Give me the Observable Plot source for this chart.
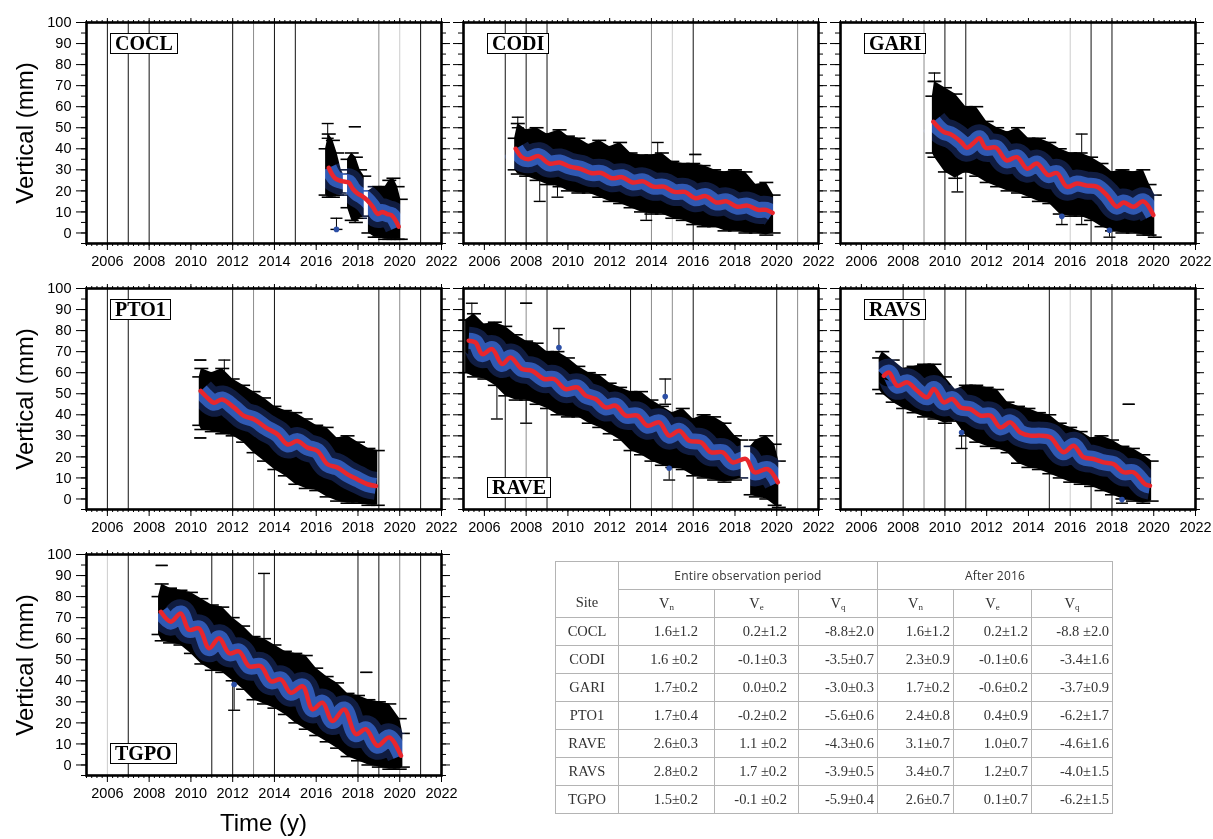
<!DOCTYPE html>
<html><head><meta charset="utf-8">
<script src="https://cdn.jsdelivr.net/npm/d3@7"></script>
<script src="https://cdn.jsdelivr.net/npm/@observablehq/plot@0.6"></script>
<style>
body{margin:0;background:#fff;}
#root{position:relative;width:1213px;height:839px;overflow:hidden;font-family:"Liberation Sans",Arial,sans-serif;background:#fff;}
.panel{position:absolute;}
.sitebox{position:absolute;box-sizing:border-box;border:1.6px solid #000;background:#fff;font-family:"Liberation Serif","Times New Roman",serif;font-weight:bold;font-size:20px;line-height:19px;padding:0 4px;color:#000;white-space:nowrap;}
.ylab{position:absolute;width:200px;height:28px;line-height:28px;text-align:center;font-size:24px;transform:rotate(-90deg);color:#000;}
.xlab{position:absolute;width:200px;text-align:center;font-size:24px;color:#000;}
table.rates{position:absolute;left:555px;top:561px;width:557px;border-collapse:collapse;table-layout:fixed;color:#333;}
table.rates td{border:1px solid #b4b4b4;height:27px;padding:0;font-family:"Liberation Serif","Times New Roman",serif;font-size:14.5px;text-align:right;}
table.rates td.sitecell{text-align:center;}
table.rates td.hd{font-family:"Open Sans","Liberation Sans",sans-serif;font-size:12px;text-align:center;letter-spacing:0.2px;}
table.rates td.vh{text-align:center;}
table.rates sub{font-size:9px;vertical-align:-2px;}
</style></head>
<body><div id="root"></div>
<script>
// ---------- axis ticks ----------
const xTickYears = [2006, 2008, 2010, 2012, 2014, 2016, 2018, 2020, 2022];
const yTickValues = [0, 10, 20, 30, 40, 50, 60, 70, 80, 90, 100];
const sites = ["COCL", "CODI", "GARI", "PTO1", "RAVE", "RAVS", "TGPO"];

// ---------- COCL ----------
const coclModel = [[2016.6,31],[2016.75,28],[2016.9,26],[2017.1,25],[2017.3,24.5],[2017.55,24],[2017.75,21],[2017.95,19],[2018.2,17.5],[2018.45,15.5],[2018.7,12.5],[2018.95,9],[2019.15,10],[2019.4,9],[2019.6,8.5],[2019.8,6],[2019.95,3]];
const coclEnvelope = [[2016.45,18,40],[2016.6,17,47],[2016.8,17,44],[2017.0,18,38],[2017.2,18,30],[2017.3,19,28],[2017.4,null,null],[2017.5,12,35],[2017.7,6,38],[2017.9,5,36],[2018.1,7,30],[2018.3,8,27],[2018.4,null,null],[2018.5,0,20],[2018.8,-2,22],[2019.0,-2,22],[2019.3,-3,22],[2019.5,-3,25],[2019.7,-3,26],[2019.9,-3,22],[2020.05,-3,16]];
const coclOutliers = [[2016.97,1.7,1.7,7],[2017.85,null,50.5,50.5],[2016.55,null,45,52]];
const coclEvents = [[2006,1],[2007,1],[2008,1],[2012,1],[2013,2],[2014,1],[2015,1],[2019,2],[2020,3],[2021,1]];

// ---------- CODI ----------
const codiModel = [[2007.5,40],[2007.8,36],[2008.1,35],[2008.6,36.5],[2009.1,33],[2009.6,33.5],[2010.1,31.5],[2010.6,30.5],[2011.1,28.5],[2011.6,28.5],[2012.1,26],[2012.6,26.5],[2013.1,24],[2013.6,24.5],[2014.1,22],[2014.6,22],[2015.1,19.5],[2015.6,19.5],[2016.1,16.5],[2016.6,17.5],[2017.1,14.5],[2017.6,15],[2018.1,12.5],[2018.6,13],[2019.1,11],[2019.5,11],[2019.8,9.5]];
const codiEnvelope = [[2007.45,30,45],[2007.6,28,52],[2008.0,27,49],[2008.5,25,50],[2009.0,23,47],[2009.6,22,49],[2010.0,20,46],[2010.5,19,45],[2011.0,19,42],[2011.5,17,44],[2012.0,15,41],[2012.5,14,43],[2013.0,12,38],[2013.5,10,37],[2014.0,9,37],[2014.5,9,38],[2015.0,7,34],[2015.5,6,33],[2016.0,4,33],[2016.5,3,32],[2017.0,3,30],[2017.5,1,29],[2018.0,1,30],[2018.5,0,29],[2019.0,0,23],[2019.5,-1,24],[2019.85,0,18]];
const codiOutliers = [[2008.65,null,15,30],[2009.5,null,17,30],[2013.75,null,6,18],[2014.3,null,28,43],[2016.1,null,37.3,37.3],[2007.6,null,50,55]];
const codiEvents = [[2007,1],[2008,1],[2009,1],[2014,2],[2015,3],[2016,1],[2021,2]];

// ---------- GARI ----------
const gariModel = [[2009.45,52.8],[2009.7,50],[2009.95,48],[2010.25,47],[2010.5,45.5],[2010.8,43],[2011.05,40.5],[2011.4,43],[2011.65,45],[2011.95,40.5],[2012.45,40.5],[2012.95,34.5],[2013.45,36],[2013.95,30.5],[2014.4,33],[2014.95,27.5],[2015.36,28.5],[2015.84,22],[2016.32,23.5],[2016.8,22.5],[2017.27,22],[2017.75,18],[2018.23,12.5],[2018.55,14.5],[2019.03,12.5],[2019.5,15],[2019.98,8.5]];
const gariEnvelope = [[2009.4,38,65],[2009.5,36,72],[2010.0,29,69],[2010.5,26,66],[2011.0,29,60],[2011.5,27,60],[2012.0,24,53],[2012.5,22,50],[2013.0,20,48],[2013.5,19,50],[2014.0,17,45],[2014.5,15,45],[2015.0,14,43],[2015.5,9,40],[2016.0,8,38],[2016.5,8,38],[2017.0,6,36],[2017.5,3,33],[2018.0,1,29],[2018.5,0,30],[2019.0,0,29],[2019.5,-1,30],[2019.8,-1,23],[2020.05,-2,18]];
const gariOutliers = [[2015.6,7.9,4,12],[2017.88,1.3,-2,5],[2010.6,null,19.5,35],[2016.55,null,4,47],[2009.5,null,72,76]];
const gariEvents = [[2009,2],[2010,1],[2011,1],[2016,3],[2017,1],[2018,1]];

// ---------- PTO1 ----------
const pto1Model = [[2010.47,51.3],[2010.8,48],[2011.1,45.7],[2011.5,47.3],[2012.07,43.4],[2012.55,39.4],[2013.03,37.8],[2013.59,33.9],[2014.15,30.7],[2014.63,25.9],[2015.1,27.5],[2015.58,24.4],[2016.06,22.8],[2016.54,16.5],[2017.02,14.9],[2017.5,11.7],[2017.98,9.3],[2018.46,7],[2018.86,6.2]];
const pto1Envelope = [[2010.4,35,58],[2010.5,33,62],[2011.0,32,60],[2011.5,31,62],[2012.0,30,57],[2012.5,27,54],[2013.0,22,51],[2013.5,18,48],[2014.0,14,44],[2014.5,11,42],[2015.0,7,41],[2015.5,5,38],[2016.0,4,35],[2016.5,1,34],[2017.0,-1,29],[2017.5,-2,30],[2018.0,-2,27],[2018.5,-3,24],[2018.95,-3,23]];
const pto1Outliers = [[2011.6,null,50,66],[2010.45,null,29,29],[2010.45,null,66,66]];
const pto1Events = [[2006,1],[2007,1],[2012,1],[2013,2],[2014,1],[2019,1],[2020,2],[2021,1]];

// ---------- RAVE ----------
const raveModel = [[2005.25,75.2],[2005.57,74.4],[2005.9,68.8],[2006.37,71.2],[2006.85,64.1],[2007.25,67.2],[2007.8,61.7],[2008.29,60.9],[2008.85,57],[2009.33,57],[2009.89,52.2],[2010.45,53],[2010.85,49.1],[2011.33,47.5],[2011.81,43.5],[2012.29,44.3],[2012.77,39.6],[2013.33,39.6],[2013.81,34.8],[2014.37,36.4],[2014.85,30.1],[2015.33,32.4],[2015.81,27.7],[2016.37,26.9],[2016.85,22.2],[2017.41,22.2],[2017.89,17.4],[2018.53,19],[2018.93,12.7],[2019.57,14.2],[2020.05,7.9]];
const raveEnvelope = [[2005.1,60,85],[2005.5,58,88],[2006.0,57,83],[2006.5,54,84],[2007.0,49,82],[2007.5,47,78],[2008.0,47,75],[2008.5,45,74],[2009.0,43,70],[2009.5,40,70],[2010.0,39,67],[2010.5,39,63],[2011.0,36,60],[2011.5,34,59],[2012.0,31,55],[2012.5,28,53],[2013.0,23,51],[2013.5,21,51],[2014.0,18,47],[2014.5,16,44],[2015.0,15,41],[2015.5,14,43],[2016.0,11,38],[2016.5,10,40],[2017.0,9,39],[2017.5,8,36],[2018.0,9,30],[2018.3,10,28],[2018.45,null,null],[2018.75,2,25],[2019.0,1,28],[2019.5,0,30],[2019.9,-3,26],[2020.1,-4,18]];
const raveOutliers = [[2009.57,72,63,81],[2014.66,48.7,45,57],[2014.85,14.6,9,20],[2006.6,null,38,62],[2008.0,null,36,60],[2008.0,null,93,93],[2005.4,null,85,93]];
const raveEvents = [[2007,1],[2008,2],[2009,1],[2013,1],[2014,2],[2015,2],[2016,1],[2020,1],[2021,2]];

// ---------- RAVS ----------
const ravsModel = [[2007.08,58.5],[2007.32,60.1],[2007.72,53.8],[2008.2,55.4],[2008.68,51.4],[2009.15,48.3],[2009.47,52.2],[2009.95,45.9],[2010.35,47.5],[2010.75,43.5],[2011.22,42.7],[2011.7,39.6],[2012.18,39.6],[2012.66,34],[2013.13,36.4],[2013.61,31.6],[2014.09,30.1],[2014.57,30.1],[2015.04,29.3],[2015.68,22.2],[2016.16,25.3],[2016.64,19.8],[2017.11,19],[2017.59,17.4],[2018.07,16.6],[2018.55,12.7],[2019.03,12.7],[2019.58,7.1],[2019.82,6.3]];
const ravsEnvelope = [[2006.85,52,67],[2007.0,50,70],[2007.5,46,66],[2008.0,43,62],[2008.5,41,63],[2009.0,39,64],[2009.5,38,64],[2010.0,36,58],[2010.5,37,52],[2011.0,30,54],[2011.5,27,54],[2012.0,25,53],[2012.5,24,52],[2013.0,22,46],[2013.5,17,44],[2014.0,15,43],[2014.5,14,41],[2015.0,12,40],[2015.5,10,36],[2016.0,8,34],[2016.5,7,32],[2017.0,6,29],[2017.5,4,30],[2018.0,2,28],[2018.5,0,25],[2019.0,-1,24],[2019.5,-2,21],[2019.9,-1,18]];
const ravsOutliers = [[2010.8,31.6,24,40],[2018.48,-0.3,-2,3],[2018.8,null,45,45]];
const ravsEvents = [[2008,1],[2009,2],[2010,1],[2011,1],[2015,1],[2016,3],[2017,1],[2018,1]];

// ---------- TGPO ----------
const tgpoModel = [[2008.56,72.8],[2009.04,68.1],[2009.51,72],[2009.91,64.2],[2010.39,64.9],[2010.87,55.5],[2011.35,60.2],[2011.83,53.1],[2012.31,53.9],[2012.79,46.9],[2013.35,46.9],[2013.83,39.8],[2014.31,40.6],[2014.79,34.3],[2015.35,37.4],[2015.82,26.4],[2016.3,29.6],[2016.78,20.9],[2017.34,26.4],[2017.9,14.6],[2018.38,17],[2018.94,9.1],[2019.5,13.1],[2020.06,4.4]];
const tgpoEnvelope = [[2008.45,62,80],[2008.6,59,86],[2009.0,58,84],[2009.5,57,83],[2010.0,53,82],[2010.5,48,79],[2011.0,45,76],[2011.5,44,75],[2012.0,40,70],[2012.5,36,66],[2013.0,31,61],[2013.5,29,60],[2014.0,27,57],[2014.5,24,54],[2015.0,20,53],[2015.5,17,52],[2016.0,14,46],[2016.5,11,42],[2017.0,8,39],[2017.5,4,34],[2018.0,2,33],[2018.5,0,31],[2019.0,-1,30],[2019.5,-2,29],[2020.0,-2,22],[2020.15,-1,15]];
const tgpoOutliers = [[2008.6,null,94.8,94.8],[2013.5,null,45,91],[2012.07,38.2,26,48],[2018.4,null,44,44]];
const tgpoEvents = [[2006,3],[2007,1],[2011,1],[2012,1],[2013,2],[2014,1],[2018,1],[2019,1],[2020,2],[2021,1]];

// ---------- table ----------
const tableGroups = ["Entire observation period", "After 2016"];
const tableComponents = [["V","n"],["V","e"],["V","q"]];
const entireVn = ["1.6±1.2","1.6 ±0.2","1.7±0.2","1.7±0.4","2.6±0.3","2.8±0.2","1.5±0.2"];
const entireVe = ["0.2±1.2","-0.1±0.3","0.0±0.2","-0.2±0.2","1.1 ±0.2","1.7 ±0.2","-0.1 ±0.2"];
const entireVq = ["-8.8±2.0","-3.5±0.7","-3.0±0.3","-5.6±0.6","-4.3±0.6","-3.9±0.5","-5.9±0.4"];
const afterVn = ["1.6±1.2","2.3±0.9","1.7±0.2","2.4±0.8","3.1±0.7","3.4±0.7","2.6±0.7"];
const afterVe = ["0.2±1.2","-0.1±0.6","-0.6±0.2","0.4±0.9","1.0±0.7","1.2±0.7","0.1±0.7"];
const afterVq = ["-8.8 ±2.0","-3.4±1.6","-3.7±0.9","-6.2±1.7","-4.6±1.6","-4.0±1.5","-6.2±1.5"];

// ---------- layout ----------
const root = document.getElementById("root");
const FW = 355, FH = 221, mL = 46, mT = 12, mR = 16, mB = 36;
const colLeft = [86, 463, 840];
const rowTop = [22, 288, 554];
const BLUE = "#2c4fa6", BLUE_IN = "#22449a", BLUE_OUT = "#101c40", RED = "#e8262d";
const eventColor = {1: "#111", 2: "#8c8c8c", 3: "#cccccc"};
const hline = {draw(ctx, size) { const r = Math.sqrt(size / Math.PI); ctx.moveTo(-r, 0); ctx.lineTo(r, 0); }};
const xMinor = d3.range(2005, 2022.001, 0.25);
const yMinor = d3.range(-5, 100.001, 5);

const panels = [
  {site: "COCL", col: 0, row: 0, model: coclModel, env: coclEnvelope, out: coclOutliers, ev: coclEvents, pos: "top"},
  {site: "CODI", col: 1, row: 0, model: codiModel, env: codiEnvelope, out: codiOutliers, ev: codiEvents, pos: "top"},
  {site: "GARI", col: 2, row: 0, model: gariModel, env: gariEnvelope, out: gariOutliers, ev: gariEvents, pos: "top"},
  {site: "PTO1", col: 0, row: 1, model: pto1Model, env: pto1Envelope, out: pto1Outliers, ev: pto1Events, pos: "top"},
  {site: "RAVE", col: 1, row: 1, model: raveModel, env: raveEnvelope, out: raveOutliers, ev: raveEvents, pos: "bottom"},
  {site: "RAVS", col: 2, row: 1, model: ravsModel, env: ravsEnvelope, out: ravsOutliers, ev: ravsEvents, pos: "top"},
  {site: "TGPO", col: 0, row: 2, model: tgpoModel, env: tgpoEnvelope, out: tgpoOutliers, ev: tgpoEvents, pos: "bottom"}
];

const blank = () => "";
for (const p of panels) {
  const showY = p.col === 0;
  const chart = Plot.plot({
    width: FW + mL + mR, height: FH + mT + mB,
    marginLeft: mL, marginTop: mT, marginRight: mR, marginBottom: mB,
    style: {fontFamily: "'Liberation Sans', Arial, sans-serif", fontSize: "14.5px", color: "#000", background: "transparent"},
    x: {domain: [2005, 2022]},
    y: {domain: [-5, 100]},
    marks: [
      Plot.ruleX(p.ev, {x: d => d[0], stroke: d => eventColor[d[1]], strokeWidth: 1}),
      Plot.ruleX(p.out, {x: d => d[0], y1: d => d[2], y2: d => d[3], stroke: "#000", strokeWidth: 1}),
      Plot.dot(p.out, {x: d => d[0], y: d => d[2], symbol: hline, r: 6, stroke: "#000", strokeWidth: 1.4}),
      Plot.dot(p.out, {x: d => d[0], y: d => d[3], symbol: hline, r: 6, stroke: "#000", strokeWidth: 1.4}),
      Plot.areaY(p.env, {x: d => d[0], y1: d => d[1], y2: d => d[2], fill: "#000", curve: "linear"}),
      Plot.dot(p.env, {x: d => d[0], y: d => d[1], symbol: hline, r: 7, stroke: "#000", strokeWidth: 1.6}),
      Plot.dot(p.env, {x: d => d[0], y: d => d[2], symbol: hline, r: 7, stroke: "#000", strokeWidth: 1.6}),
      Plot.line(p.model, {x: d => d[0], y: d => d[1], stroke: BLUE_OUT, strokeWidth: 28, curve: "catmull-rom", strokeLinecap: "butt", mixBlendMode: "screen"}),
      Plot.line(p.model, {x: d => d[0], y: d => d[1], stroke: BLUE_IN, strokeWidth: 16, curve: "catmull-rom", strokeLinecap: "butt", mixBlendMode: "screen"}),
      Plot.dot(p.out.filter(d => d[1] != null), {x: d => d[0], y: d => d[1], r: 2.8, fill: BLUE}),
      Plot.line(p.model, {x: d => d[0], y: d => d[1], stroke: RED, strokeWidth: 4.5, curve: "catmull-rom", strokeLinecap: "round"}),
      Plot.axisY(yTickValues, {anchor: "left", tickSize: 10, tickPadding: 5, tickFormat: showY ? (d => String(d)) : blank, label: null}),
      Plot.axisY(yMinor, {anchor: "left", tickSize: 5, tickFormat: blank, label: null}),
      Plot.axisY(yTickValues, {anchor: "right", tickSize: 8, tickFormat: blank, label: null}),
      Plot.axisY(yMinor, {anchor: "right", tickSize: 4, tickFormat: blank, label: null}),
      Plot.axisX(xTickYears, {anchor: "bottom", tickSize: 7, tickPadding: 5, tickFormat: d => String(d), label: null}),
      Plot.axisX(xMinor, {anchor: "bottom", tickSize: 3, tickFormat: blank, label: null}),
      Plot.axisX(xTickYears, {anchor: "top", tickSize: 5, tickFormat: blank, label: null}),
      Plot.axisX(xMinor, {anchor: "top", tickSize: 3, tickFormat: blank, label: null}),
      Plot.frame({stroke: "#000", strokeWidth: 2.6})
    ]
  });
  chart.classList.add("panel");
  chart.style.left = (colLeft[p.col] - mL) + "px";
  chart.style.top = (rowTop[p.row] - mT) + "px";
  root.appendChild(chart);

  const lab = document.createElement("div");
  lab.className = "sitebox";
  lab.textContent = p.site;
  lab.style.left = (colLeft[p.col] + 24) + "px";
  if (p.pos === "top") lab.style.top = (rowTop[p.row] + 11) + "px";
  else lab.style.top = (rowTop[p.row] + FH - 32) + "px";
  root.appendChild(lab);
}

// y-axis titles
for (const r of [0, 1, 2]) {
  const t = document.createElement("div");
  t.className = "ylab";
  t.textContent = "Vertical (mm)";
  t.style.left = (25 - 100) + "px";
  t.style.top = (rowTop[r] + FH / 2 - 14) + "px";
  root.appendChild(t);
}
const xt = document.createElement("div");
xt.className = "xlab";
xt.textContent = "Time (y)";
xt.style.left = (colLeft[0] + FW / 2 - 100) + "px";
xt.style.top = "809px";
root.appendChild(xt);

// table
const tbl = document.createElement("table");
tbl.className = "rates";
const colW = [63, 96, 84, 79, 76, 78, 81];
const cg = document.createElement("colgroup");
for (const w of colW) { const c = document.createElement("col"); c.style.width = w + "px"; cg.appendChild(c); }
tbl.appendChild(cg);
const r1 = tbl.insertRow();
const siteHead = r1.insertCell(); siteHead.rowSpan = 2; siteHead.className = "sitecell";
siteHead.style.verticalAlign = "bottom"; siteHead.style.paddingBottom = "6px"; siteHead.textContent = "Site";
for (const g of tableGroups) { const c = r1.insertCell(); c.colSpan = 3; c.className = "hd"; c.textContent = g; }
const r2 = tbl.insertRow();
for (let k = 0; k < 2; k++) for (const [v, s] of tableComponents) {
  const c = r2.insertCell(); c.className = "vh"; c.innerHTML = v + "<sub>" + s + "</sub>";
}
const cols = [entireVn, entireVe, entireVq, afterVn, afterVe, afterVq];
const padR = [16, 11, 3, 3, 3, 3];
sites.forEach((s, i) => {
  const r = tbl.insertRow();
  const c0 = r.insertCell(); c0.className = "sitecell"; c0.textContent = s;
  cols.forEach((arr, j) => { const c = r.insertCell(); c.textContent = arr[i]; c.style.paddingRight = padR[j] + "px"; });
});
root.appendChild(tbl);
</script>
</body></html>
